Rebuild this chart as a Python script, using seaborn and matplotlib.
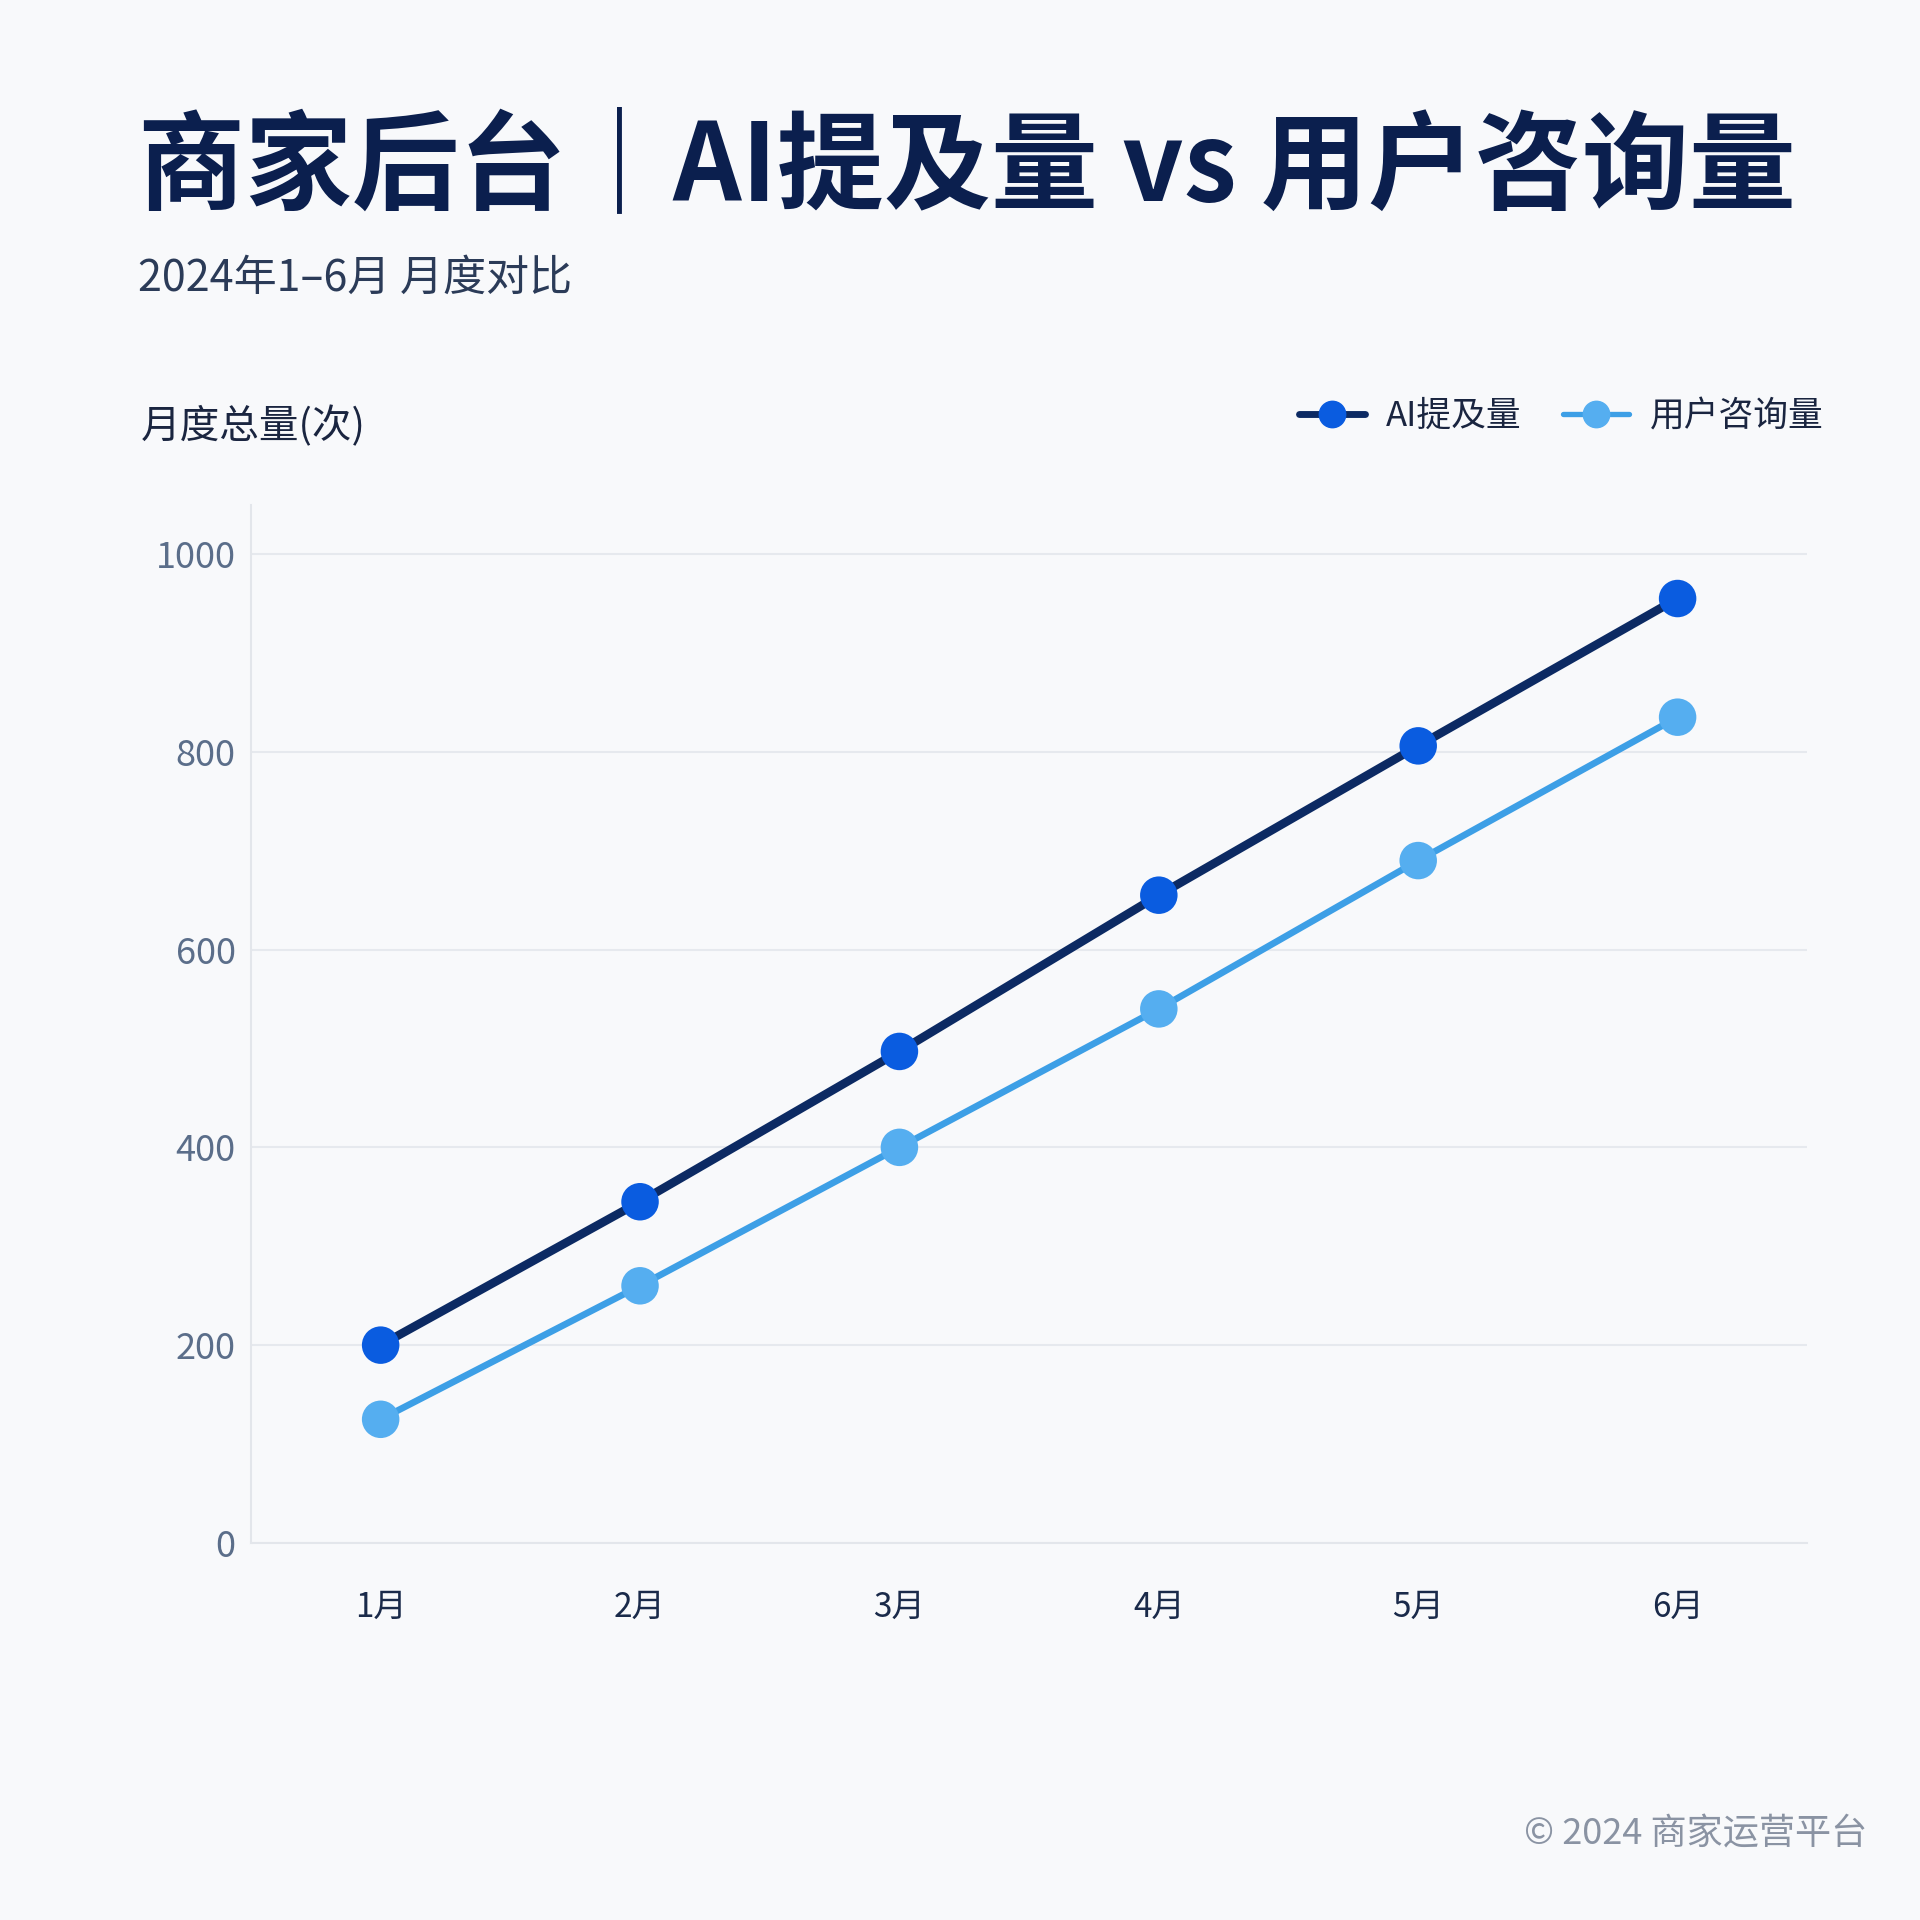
import matplotlib
matplotlib.use("Agg")
import matplotlib.pyplot as plt
from matplotlib.lines import Line2D
import seaborn as sns
import pandas as pd

months = ["1月", "2月", "3月", "4月", "5月", "6月"]
ai_mentions = [200, 345, 497, 655, 806, 955]
user_inquiries = [125, 260, 400, 540, 690, 835]
series_names = ["AI提及量", "用户咨询量"]
y_ticks = [0, 200, 400, 600, 800, 1000]

title_text = "商家后台｜AI提及量 vs 用户咨询量"
subtitle_text = "2024年1–6月 月度对比"
ylabel_text = "月度总量(次)"
footer_text = "© 2024 商家运营平台"

BG = "#f8f9fb"
NAVY = "#0b1f4e"
line_colors = {"AI提及量": "#0c2a63", "用户咨询量": "#3d9fe6"}
marker_colors = {"AI提及量": "#0a5ce0", "用户咨询量": "#55aef0"}
line_widths = {"AI提及量": 6.2, "用户咨询量": 4.8}

sns.set_theme(style="whitegrid")
plt.rcParams["font.family"] = ["Noto Sans CJK SC", "DejaVu Sans"]

df = pd.DataFrame({
    "month": months * 2,
    "value": ai_mentions + user_inquiries,
    "series": [series_names[0]] * len(months) + [series_names[1]] * len(months),
})
df["idx"] = list(range(len(months))) * 2

fig = plt.figure(figsize=(19.2, 19.2), dpi=100, facecolor=BG)
ax = fig.add_axes([0.1307, 0.1964, 0.8106, 0.5408])
ax.set_facecolor(BG)

for name in series_names:
    sub = df[df["series"] == name]
    sns.lineplot(data=sub, x="idx", y="value", ax=ax, color=line_colors[name],
                 linewidth=line_widths[name], legend=False, zorder=2)
    sns.scatterplot(data=sub, x="idx", y="value", ax=ax, color=marker_colors[name],
                    s=27 ** 2, edgecolor="none", legend=False, zorder=3)

ax.set_xlim(-0.5, len(months) - 0.5)
ax.set_ylim(0, 1050)
ax.set_xticks(range(len(months)))
ax.set_xticklabels(months)
ax.set_yticks(y_ticks)
ax.set_yticklabels([str(v) for v in y_ticks])
ax.set_xlabel("")
ax.set_ylabel("")

ax.grid(axis="y", color="#e6e9ee", linewidth=1.5)
ax.grid(axis="x", visible=False)
for s in ["top", "right"]:
    ax.spines[s].set_visible(False)
for s in ["left", "bottom"]:
    ax.spines[s].set_visible(True)
    ax.spines[s].set_color("#e3e6eb")
    ax.spines[s].set_linewidth(1.5)

ax.tick_params(axis="y", length=0, pad=11, labelsize=26, labelcolor="#5b6e8a")
ax.tick_params(axis="x", length=0, pad=34, labelsize=24, labelcolor="#1a2a4a")
for lab in ax.get_xticklabels():
    lab.set_fontweight("medium")
for lab in ax.get_yticklabels():
    lab.set_fontweight("light")

fig.text(0.072, 0.912, title_text, fontsize=77, fontweight="bold", color=NAVY,
         ha="left", va="center")
fig.text(0.072, 0.855, subtitle_text, fontsize=31, color="#2b3b58",
         ha="left", va="center")
fig.text(0.0733, 0.778, ylabel_text, fontsize=28.5, fontweight="medium", color="#1a2540",
         ha="left", va="center")
fig.text(0.9726, 0.0446, footer_text, fontsize=26, color="#8a93a3",
         ha="right", va="center")

handles = [Line2D([0], [0], color=line_colors[n], linewidth=line_widths[n] * 0.8,
                  marker="o", markersize=19, markerfacecolor=marker_colors[n],
                  markeredgecolor=marker_colors[n]) for n in series_names]
leg = fig.legend(handles, series_names, loc="center right", bbox_to_anchor=(0.966, 0.783),
                 ncol=2, frameon=False, fontsize=25, handlelength=1.9,
                 columnspacing=1.2, handletextpad=0.6)
for t in leg.get_texts():
    t.set_color("#1a2540")

fig.savefig("out.png", dpi=100, facecolor=BG)
